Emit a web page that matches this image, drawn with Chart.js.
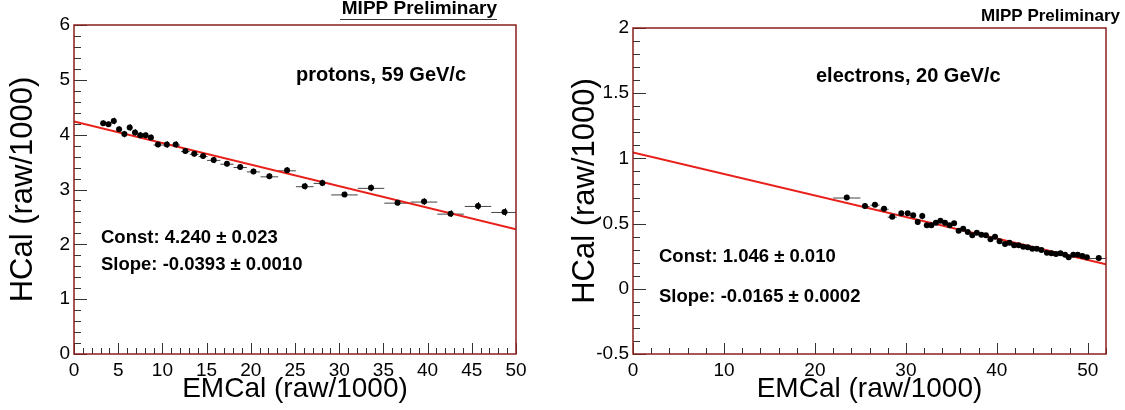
<!DOCTYPE html>
<html><head><meta charset="utf-8">
<script src="https://cdn.jsdelivr.net/npm/chart.js@4.4.0/dist/chart.umd.min.js"></script>
<style>
html,body{margin:0;padding:0;background:#fff;width:1125px;height:410px;overflow:hidden;}
.wrap{position:absolute;top:0;height:410px;}
canvas{display:block;}
</style></head><body>
<div class="wrap" style="left:0;width:560px"><canvas id="c1" width="560" height="410"></canvas></div>
<div class="wrap" style="left:560px;width:565px"><canvas id="c2" width="565" height="410"></canvas></div>
<script>
// ---------- Data: protons, 59 GeV/c ----------
const protonX    = [3.3, 3.9, 4.5, 5.1, 5.7, 6.3, 6.9, 7.5, 8.1, 8.7, 9.5, 10.5, 11.5, 12.6, 13.6, 14.6, 15.8, 17.3, 18.8, 20.3, 22.1, 24.1, 26.1, 28.1, 30.6, 33.6, 36.6, 39.6, 42.6, 45.7, 48.7];
const protonY    = [4.21, 4.19, 4.25, 4.10, 4.01, 4.13, 4.04, 3.99, 3.99, 3.95, 3.82, 3.82, 3.82, 3.70, 3.65, 3.61, 3.54, 3.47, 3.41, 3.33, 3.24, 3.35, 3.06, 3.12, 2.91, 3.03, 2.76, 2.78, 2.56, 2.70, 2.59];
const protonXErr = [0.3, 0.3, 0.3, 0.3, 0.3, 0.3, 0.3, 0.3, 0.3, 0.3, 0.5, 0.5, 0.5, 0.5, 0.5, 0.5, 0.75, 0.75, 0.75, 0.75, 1.0, 1.0, 1.0, 1.0, 1.5, 1.5, 1.5, 1.5, 1.5, 1.5, 1.5];
const protonYErr = [0.05, 0.05, 0.06, 0.05, 0.06, 0.06, 0.06, 0.06, 0.05, 0.05, 0.05, 0.06, 0.06, 0.05, 0.05, 0.05, 0.06, 0.05, 0.05, 0.05, 0.05, 0.06, 0.06, 0.06, 0.05, 0.06, 0.05, 0.06, 0.06, 0.07, 0.07];
const protonFitX = [0, 50];
const protonFitY = [4.240, 2.275];

// ---------- Data: electrons, 20 GeV/c ----------
const electronX    = [23.5, 25.5, 26.6, 27.6, 28.5, 29.5, 30.2, 30.8, 31.3, 31.8, 32.3, 32.8, 33.3, 33.8, 34.3, 34.8, 35.3, 35.8, 36.3, 36.8, 37.3, 37.8, 38.3, 38.8, 39.3, 39.8, 40.3, 40.9, 41.4, 41.9, 42.4, 42.9, 43.4, 43.9, 44.4, 44.9, 45.5, 46.0, 46.5, 47.0, 47.5, 47.9, 48.4, 48.9, 49.4, 49.9, 51.2];
const electronY    = [0.700, 0.635, 0.645, 0.614, 0.553, 0.579, 0.579, 0.564, 0.512, 0.558, 0.487, 0.487, 0.507, 0.522, 0.507, 0.487, 0.502, 0.446, 0.461, 0.436, 0.410, 0.430, 0.415, 0.410, 0.380, 0.400, 0.364, 0.344, 0.354, 0.334, 0.334, 0.323, 0.318, 0.308, 0.308, 0.298, 0.277, 0.272, 0.267, 0.272, 0.262, 0.242, 0.262, 0.262, 0.252, 0.242, 0.236];
const electronXErr = [1.5, 0.5, 0.5, 0.5, 0.5, 0.25, 0.25, 0.25, 0.25, 0.25, 0.25, 0.25, 0.25, 0.25, 0.25, 0.25, 0.25, 0.25, 0.25, 0.25, 0.25, 0.25, 0.25, 0.25, 0.25, 0.25, 0.25, 0.25, 0.25, 0.25, 0.25, 0.25, 0.25, 0.25, 0.25, 0.25, 0.25, 0.25, 0.25, 0.25, 0.25, 0.25, 0.25, 0.25, 0.25, 0.25, 1.0];
const electronYErr = [0.010, 0.015, 0.015, 0.015, 0.015, 0.015, 0.015, 0.015, 0.020, 0.025, 0.020, 0.015, 0.015, 0.015, 0.015, 0.015, 0.015, 0.015, 0.015, 0.015, 0.015, 0.015, 0.015, 0.015, 0.015, 0.015, 0.015, 0.015, 0.015, 0.015, 0.015, 0.015, 0.015, 0.015, 0.015, 0.015, 0.015, 0.015, 0.015, 0.015, 0.015, 0.015, 0.015, 0.015, 0.015, 0.015, 0.015];
const electronFitX = [0, 52];
const electronFitY = [1.046, 0.188];

// ---------- Tick labels ----------
const leftXTicks  = [0, 5, 10, 15, 20, 25, 30, 35, 40, 45, 50];
const leftYTicks  = [0, 1, 2, 3, 4, 5, 6];
const rightXTicks = [0, 10, 20, 30, 40, 50];
const rightYTicks = [-0.5, 0, 0.5, 1, 1.5, 2];

const FONT = '"Liberation Sans", Arial, Helvetica, sans-serif';

const rootPlugin = {
  id: 'rootStyle',
  beforeDatasetsDraw(chart, args, o) {
    const ctx = chart.ctx, xs = chart.scales.x, ys = chart.scales.y, a = chart.chartArea;
    ctx.save();
    ctx.beginPath(); ctx.rect(a.left, a.top, a.right - a.left, a.bottom - a.top); ctx.clip();
    ctx.lineWidth = 1;
    for (let i = 0; i < o.ex.length; i++) {
      const px = xs.getPixelForValue(o.px[i]), py = ys.getPixelForValue(o.py[i]);
      ctx.strokeStyle = '#444';
      ctx.beginPath();
      ctx.moveTo(xs.getPixelForValue(o.px[i] - o.ex[i]), py + 0.5);
      ctx.lineTo(xs.getPixelForValue(o.px[i] + o.ex[i]), py + 0.5);
      ctx.stroke();
      ctx.strokeStyle = '#111';
      ctx.beginPath();
      ctx.moveTo(Math.round(px) + 0.5, ys.getPixelForValue(o.py[i] - o.ey[i]));
      ctx.lineTo(Math.round(px) + 0.5, ys.getPixelForValue(o.py[i] + o.ey[i]));
      ctx.stroke();
    }
    ctx.restore();
  },
  afterDraw(chart, args, o) {
    const ctx = chart.ctx, xs = chart.scales.x, ys = chart.scales.y, a = chart.chartArea;
    ctx.save();
    ctx.strokeStyle = '#333'; ctx.lineWidth = 1;
    const eps = 1e-6;
    for (let v = xs.min; v <= xs.max + eps; v += o.xMinor) {
      const isMajor = Math.abs(v / o.xMajor - Math.round(v / o.xMajor)) < 1e-4;
      const p = Math.round(xs.getPixelForValue(v)) + 0.5;
      const len = isMajor ? 11 : 6;
      ctx.beginPath(); ctx.moveTo(p, a.bottom); ctx.lineTo(p, a.bottom - len); ctx.stroke();
    }
    for (let i = 0; ; i++) {
      const v = ys.min + i * o.yMinor;
      if (v > ys.max + eps) break;
      const isMajor = Math.abs((v - ys.min) / o.yMajor - Math.round((v - ys.min) / o.yMajor)) < 1e-4;
      const p = Math.round(ys.getPixelForValue(v)) + 0.5;
      const len = isMajor ? 13 : 7;
      ctx.beginPath(); ctx.moveTo(a.left, p); ctx.lineTo(a.left + len, p); ctx.stroke();
    }
    ctx.strokeStyle = '#8a1f1f'; ctx.lineWidth = 1.5;
    ctx.strokeRect(a.left, a.top, a.right - a.left, a.bottom - a.top);
    ctx.fillStyle = '#000';
    ctx.textBaseline = 'middle';
    for (const t of o.texts) {
      ctx.font = (t.bold ? 'bold ' : '') + t.size + 'px ' + FONT;
      ctx.textAlign = t.align || 'left';
      ctx.fillText(t.text, t.x, t.y);
    }
    if (o.underline) {
      ctx.strokeStyle = '#333'; ctx.lineWidth = 1;
      ctx.beginPath(); ctx.moveTo(o.underline[0], o.underline[2] + 0.5); ctx.lineTo(o.underline[1], o.underline[2] + 0.5); ctx.stroke();
    }
    ctx.restore();
  }
};

function makeChart(id, cfg) {
  const pts = cfg.x.map((v, i) => ({ x: v, y: cfg.y[i] }));
  const fit = cfg.fitX.map((v, i) => ({ x: v, y: cfg.fitY[i] }));
  return new Chart(document.getElementById(id), {
    type: 'scatter',
    data: {
      datasets: [
        { type: 'line', data: fit, borderColor: '#e8201a', borderWidth: 2, pointRadius: 0, fill: false, order: 1 },
        { data: pts, backgroundColor: '#000', borderColor: '#000', pointRadius: 3, pointBorderWidth: 0, order: 0 }
      ]
    },
    options: {
      responsive: false, animation: false, devicePixelRatio: 1,
      layout: { padding: cfg.padding },
      plugins: {
        legend: { display: false }, tooltip: { enabled: false },
        rootStyle: { px: cfg.x, py: cfg.y, ex: cfg.ex, ey: cfg.ey, xMajor: cfg.xMajor, xMinor: cfg.xMinor, yMajor: cfg.yMajor, yMinor: cfg.yMinor, texts: cfg.texts, underline: cfg.underline }
      },
      scales: {
        x: {
          type: 'linear', min: cfg.xMin, max: cfg.xMax,
          grid: { display: false, drawTicks: false }, border: { display: false },
          afterBuildTicks: s => { s.ticks = cfg.xTicks.map(v => ({ value: v })); },
          afterFit: s => { s.height = 56; },
          ticks: { autoSkip: false, maxRotation: 0, padding: 5, color: '#000', font: { family: FONT, size: 19 }, callback: v => String(v) },
          title: { display: true, text: 'EMCal (raw/1000)', color: '#000', font: { family: FONT, size: 28 }, padding: { top: 0, bottom: 4 } }
        },
        y: {
          type: 'linear', min: cfg.yMin, max: cfg.yMax,
          grid: { display: false, drawTicks: false }, border: { display: false },
          afterBuildTicks: s => { s.ticks = cfg.yTicks.map(v => ({ value: v })); },
          afterFit: s => { s.width = cfg.yWidth; },
          ticks: { autoSkip: false, padding: 4, color: '#000', font: { family: FONT, size: 19 }, callback: v => String(v) },
          title: { display: true, text: 'HCal (raw/1000)', color: '#000', font: { family: FONT, size: 31 }, padding: { top: cfg.yTitlePad, bottom: 0 } }
        }
      }
    },
    plugins: [rootPlugin]
  });
}

makeChart('c1', {
  x: protonX, y: protonY, ex: protonXErr, ey: protonYErr, fitX: protonFitX, fitY: protonFitY,
  xMin: 0, xMax: 50, yMin: 0, yMax: 6, xTicks: leftXTicks, yTicks: leftYTicks,
  xMajor: 5, xMinor: 1, yMajor: 1, yMinor: 0.2,
  padding: { top: 25, right: 44, bottom: 0, left: 0 }, yWidth: 74, yTitlePad: 5,
  underline: [340, 497, 19],
  texts: [
    { text: 'MIPP Preliminary', x: 497, y: 9, size: 19, bold: true, align: 'right' },
    { text: 'protons, 59 GeV/c', x: 296, y: 75, size: 20, bold: true },
    { text: 'Const: 4.240 \u00b1 0.023', x: 101, y: 238, size: 18.5, bold: true },
    { text: 'Slope: -0.0393 \u00b1 0.0010', x: 101, y: 265, size: 18.5, bold: true }
  ]
});

makeChart('c2', {
  x: electronX, y: electronY, ex: electronXErr, ey: electronYErr, fitX: electronFitX, fitY: electronFitY,
  xMin: 0, xMax: 52, yMin: -0.5, yMax: 2, xTicks: rightXTicks, yTicks: rightYTicks,
  xMajor: 10, xMinor: 2, yMajor: 0.5, yMinor: 0.1,
  padding: { top: 28, right: 19, bottom: 0, left: 0 }, yWidth: 73, yTitlePad: 7,
  texts: [
    { text: 'MIPP Preliminary', x: 560, y: 16, size: 17, bold: true, align: 'right' },
    { text: 'electrons, 20 GeV/c', x: 256, y: 76, size: 20, bold: true },
    { text: 'Const: 1.046 \u00b1 0.010', x: 99, y: 257, size: 18.5, bold: true },
    { text: 'Slope: -0.0165 \u00b1 0.0002', x: 99, y: 297, size: 18.5, bold: true }
  ]
});
</script>
</body></html>
